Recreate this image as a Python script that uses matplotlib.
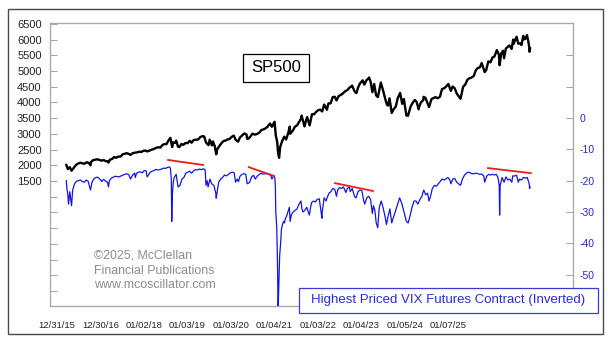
import matplotlib
matplotlib.use("Agg")
import matplotlib.pyplot as plt
import matplotlib.dates as mdates
from matplotlib.patches import Rectangle
from matplotlib.ticker import FixedLocator, FuncFormatter
import pandas as pd

plt.rcParams['font.family'] = ['Liberation Sans', 'DejaVu Sans']

# S&P 500 closes (approximate, roughly twice a month plus turning points)
sp_dates = [
    "2016-01-04", "2016-01-15", "2016-01-29", "2016-02-11", "2016-02-29", "2016-03-15", "2016-03-31",
    "2016-04-15", "2016-04-29", "2016-05-13", "2016-05-31", "2016-06-15", "2016-06-27", "2016-06-30",
    "2016-07-15", "2016-07-29", "2016-08-15", "2016-08-31", "2016-09-15", "2016-09-30", "2016-10-14",
    "2016-10-31", "2016-11-04", "2016-11-15", "2016-11-30", "2016-12-15", "2016-12-30",
    "2017-01-13", "2017-01-31", "2017-02-15", "2017-02-28", "2017-03-15", "2017-03-31", "2017-04-13",
    "2017-04-28", "2017-05-15", "2017-05-31", "2017-06-15", "2017-06-30", "2017-07-14", "2017-07-31",
    "2017-08-11", "2017-08-31", "2017-09-15", "2017-09-29", "2017-10-13", "2017-10-31", "2017-11-15",
    "2017-11-30", "2017-12-15", "2017-12-29",
    "2018-01-12", "2018-01-26", "2018-02-08", "2018-02-15", "2018-02-28", "2018-03-09", "2018-03-23",
    "2018-04-02", "2018-04-16", "2018-04-30", "2018-05-15", "2018-05-31", "2018-06-15", "2018-06-29",
    "2018-07-13", "2018-07-31", "2018-08-15", "2018-08-31", "2018-09-20", "2018-09-28", "2018-10-11",
    "2018-10-29", "2018-11-07", "2018-11-23", "2018-11-30", "2018-12-14", "2018-12-24", "2018-12-31",
    "2019-01-15", "2019-01-31", "2019-02-15", "2019-02-28", "2019-03-15", "2019-03-29", "2019-04-15",
    "2019-04-30", "2019-05-13", "2019-05-31", "2019-06-14", "2019-06-28", "2019-07-15", "2019-07-31",
    "2019-08-05", "2019-08-15", "2019-08-30", "2019-09-13", "2019-09-30", "2019-10-15", "2019-10-31",
    "2019-11-15", "2019-11-29", "2019-12-13", "2019-12-31",
    "2020-01-17", "2020-01-31", "2020-02-19", "2020-02-28", "2020-03-09", "2020-03-16", "2020-03-23",
    "2020-03-31", "2020-04-15", "2020-04-30", "2020-05-13", "2020-05-29", "2020-06-08", "2020-06-11",
    "2020-06-30", "2020-07-15", "2020-07-31", "2020-08-14", "2020-08-31", "2020-09-02", "2020-09-23",
    "2020-09-30", "2020-10-12", "2020-10-30", "2020-11-16", "2020-11-30", "2020-12-15", "2020-12-31",
    "2021-01-15", "2021-01-29", "2021-02-12", "2021-03-04", "2021-03-15", "2021-03-31", "2021-04-15",
    "2021-04-30", "2021-05-12", "2021-05-28", "2021-06-15", "2021-06-30", "2021-07-15", "2021-07-30",
    "2021-08-16", "2021-08-31", "2021-09-02", "2021-09-20", "2021-09-30", "2021-10-04", "2021-10-15",
    "2021-10-29", "2021-11-18", "2021-11-30", "2021-12-15", "2021-12-31",
    "2022-01-03", "2022-01-14", "2022-01-27", "2022-02-09", "2022-02-23", "2022-03-08", "2022-03-29",
    "2022-04-14", "2022-04-29", "2022-05-12", "2022-05-20", "2022-05-31", "2022-06-16", "2022-06-30",
    "2022-07-15", "2022-07-29", "2022-08-16", "2022-08-31", "2022-09-12", "2022-09-30", "2022-10-12",
    "2022-10-31", "2022-11-15", "2022-11-30", "2022-12-13", "2022-12-28", "2022-12-30",
    "2023-01-13", "2023-01-31", "2023-02-02", "2023-02-15", "2023-03-13", "2023-03-31", "2023-04-14",
    "2023-04-28", "2023-05-15", "2023-05-31", "2023-06-15", "2023-06-30", "2023-07-14", "2023-07-31",
    "2023-08-18", "2023-08-31", "2023-09-15", "2023-09-29", "2023-10-27", "2023-11-15", "2023-11-30",
    "2023-12-15", "2023-12-29",
    "2024-01-12", "2024-01-31", "2024-02-15", "2024-02-29", "2024-03-15", "2024-03-28", "2024-04-19",
    "2024-04-30", "2024-05-15", "2024-05-31", "2024-06-14", "2024-06-28", "2024-07-16", "2024-07-31",
    "2024-08-05", "2024-08-16", "2024-08-30", "2024-09-06", "2024-09-19", "2024-09-30", "2024-10-15",
    "2024-10-31", "2024-11-11", "2024-11-15", "2024-11-29", "2024-12-06", "2024-12-18", "2024-12-31",
    "2025-01-10", "2025-01-23", "2025-01-27", "2025-02-07", "2025-02-19", "2025-02-28", "2025-03-07",
    "2025-03-10", "2025-03-13",
]
sp_close = [
    2012, 1880, 1940, 1829, 1932, 2015, 2060,
    2080, 2065, 2046, 2097, 2072, 2000, 2099,
    2162, 2174, 2190, 2171, 2147, 2168, 2133,
    2126, 2085, 2180, 2199, 2262, 2239,
    2275, 2279, 2350, 2364, 2385, 2363, 2329,
    2384, 2402, 2412, 2433, 2423, 2459, 2470,
    2441, 2472, 2500, 2519, 2553, 2575, 2564,
    2648, 2675, 2674,
    2786, 2873, 2581, 2732, 2714, 2786, 2588,
    2582, 2678, 2648, 2711, 2705, 2780, 2718,
    2801, 2816, 2818, 2902, 2931, 2914, 2728,
    2641, 2814, 2633, 2760, 2600, 2351, 2507,
    2610, 2704, 2775, 2784, 2822, 2834, 2905,
    2946, 2812, 2752, 2887, 2942, 3014, 2980,
    2844, 2848, 2926, 3007, 2977, 2996, 3038,
    3120, 3141, 3169, 3231,
    3330, 3226, 3386, 2954, 2747, 2386, 2237,
    2585, 2783, 2912, 2820, 3044, 3232, 3002,
    3100, 3227, 3271, 3373, 3500, 3580, 3237,
    3363, 3534, 3270, 3627, 3622, 3695, 3756,
    3768, 3714, 3934, 3768, 3969, 3973, 4170,
    4181, 4063, 4204, 4246, 4298, 4360, 4395,
    4479, 4523, 4537, 4358, 4308, 4300, 4471,
    4605, 4704, 4567, 4709, 4766,
    4796, 4663, 4326, 4587, 4226, 4171, 4632,
    4393, 4132, 3930, 3901, 4132, 3667, 3785,
    3863, 4130, 4305, 3955, 4110, 3586, 3577,
    3872, 3991, 4080, 4019, 3783, 3840,
    3999, 4077, 4180, 4148, 3855, 4109, 4138,
    4169, 4136, 4180, 4426, 4450, 4505, 4589,
    4370, 4508, 4450, 4288, 4117, 4502, 4568,
    4719, 4770,
    4784, 4846, 5030, 5096, 5117, 5254, 4967,
    5036, 5308, 5278, 5431, 5460, 5667, 5522,
    5186, 5554, 5648, 5408, 5713, 5762, 5815,
    5705, 6001, 5870, 6032, 6090, 5872, 5882,
    5827, 6119, 6012, 6026, 6144, 5955, 5770,
    5614, 5720,
]

# Highest-priced VIX futures contract (plotted inverted on the right axis)
vx_dates = [
    "2016-01-04", "2016-01-08", "2016-01-15", "2016-01-20", "2016-01-29", "2016-02-11", "2016-02-19",
    "2016-03-04", "2016-03-18", "2016-04-01", "2016-04-15", "2016-04-29", "2016-05-13", "2016-05-27",
    "2016-06-10", "2016-06-24", "2016-06-27", "2016-07-08", "2016-07-22", "2016-08-05", "2016-08-19",
    "2016-09-09", "2016-09-16", "2016-09-30", "2016-10-14", "2016-10-28", "2016-11-04", "2016-11-11",
    "2016-11-25", "2016-12-09", "2016-12-23",
    "2017-01-06", "2017-01-20", "2017-02-03", "2017-02-17", "2017-03-03", "2017-03-17", "2017-03-31",
    "2017-04-13", "2017-04-28", "2017-05-12", "2017-05-17", "2017-05-26", "2017-06-09", "2017-06-23",
    "2017-07-07", "2017-07-21", "2017-08-04", "2017-08-11", "2017-08-18", "2017-09-01", "2017-09-15",
    "2017-09-29", "2017-10-13", "2017-10-27", "2017-11-10", "2017-11-24", "2017-12-08", "2017-12-22",
    "2018-01-05", "2018-01-19", "2018-01-26", "2018-02-02", "2018-02-05", "2018-02-09", "2018-02-16",
    "2018-02-23", "2018-03-09", "2018-03-23", "2018-04-06", "2018-04-20", "2018-05-04", "2018-05-18",
    "2018-06-01", "2018-06-15", "2018-06-29", "2018-07-13", "2018-07-27", "2018-08-10", "2018-08-24",
    "2018-09-07", "2018-09-21", "2018-10-05", "2018-10-11", "2018-10-19", "2018-10-26", "2018-11-09",
    "2018-11-21", "2018-12-07", "2018-12-21", "2018-12-24", "2018-12-31",
    "2019-01-11", "2019-01-25", "2019-02-08", "2019-02-22", "2019-03-08", "2019-03-22", "2019-04-05",
    "2019-04-19", "2019-05-03", "2019-05-13", "2019-05-24", "2019-06-03", "2019-06-14", "2019-06-28",
    "2019-07-12", "2019-07-26", "2019-08-05", "2019-08-14", "2019-08-23", "2019-09-06", "2019-09-20",
    "2019-10-02", "2019-10-18", "2019-11-01", "2019-11-15", "2019-11-29", "2019-12-13", "2019-12-27",
    "2020-01-10", "2020-01-24", "2020-01-31", "2020-02-14", "2020-02-21", "2020-02-25", "2020-02-28",
    "2020-03-06", "2020-03-12", "2020-03-16", "2020-03-18", "2020-03-23", "2020-03-27", "2020-04-03",
    "2020-04-09", "2020-04-17", "2020-04-24", "2020-05-01", "2020-05-08", "2020-05-15", "2020-05-22",
    "2020-06-05", "2020-06-11", "2020-06-19", "2020-07-02", "2020-07-17", "2020-07-31", "2020-08-14",
    "2020-08-28", "2020-09-04", "2020-09-11", "2020-09-25", "2020-10-09", "2020-10-28", "2020-11-06",
    "2020-11-13", "2020-11-27", "2020-12-11", "2020-12-23",
    "2021-01-08", "2021-01-27", "2021-01-29", "2021-02-12", "2021-02-26", "2021-03-05", "2021-03-19",
    "2021-04-02", "2021-04-16", "2021-04-30", "2021-05-12", "2021-05-21", "2021-06-04", "2021-06-18",
    "2021-07-02", "2021-07-19", "2021-07-30", "2021-08-13", "2021-08-20", "2021-09-03", "2021-09-20",
    "2021-10-01", "2021-10-15", "2021-10-29", "2021-11-12", "2021-11-26", "2021-12-03", "2021-12-17",
    "2021-12-31",
    "2022-01-14", "2022-01-27", "2022-02-04", "2022-02-14", "2022-02-24", "2022-03-07", "2022-03-18",
    "2022-04-01", "2022-04-14", "2022-04-29", "2022-05-09", "2022-05-20", "2022-06-03", "2022-06-16",
    "2022-06-30", "2022-07-15", "2022-07-29", "2022-08-12", "2022-08-26", "2022-09-13", "2022-09-30",
    "2022-10-13", "2022-10-28", "2022-11-10", "2022-11-25", "2022-12-09", "2022-12-22",
    "2023-01-06", "2023-01-20", "2023-02-03", "2023-02-17", "2023-03-03", "2023-03-13", "2023-03-24",
    "2023-04-06", "2023-04-21", "2023-05-05", "2023-05-19", "2023-06-02", "2023-06-16", "2023-06-30",
    "2023-07-14", "2023-07-28", "2023-08-11", "2023-08-18", "2023-09-01", "2023-09-15", "2023-09-29",
    "2023-10-13", "2023-10-27", "2023-11-10", "2023-11-24", "2023-12-08", "2023-12-22",
    "2024-01-05", "2024-01-19", "2024-02-02", "2024-02-16", "2024-03-01", "2024-03-15", "2024-03-28",
    "2024-04-12", "2024-04-19", "2024-05-03", "2024-05-17", "2024-05-31", "2024-06-14", "2024-06-28",
    "2024-07-12", "2024-07-24", "2024-08-02", "2024-08-05", "2024-08-09", "2024-08-23", "2024-09-06",
    "2024-09-20", "2024-10-04", "2024-10-18", "2024-11-01", "2024-11-08", "2024-11-22", "2024-12-06",
    "2024-12-18", "2024-12-27",
    "2025-01-10", "2025-01-24", "2025-02-07", "2025-02-21", "2025-02-28", "2025-03-07", "2025-03-10",
    "2025-03-13",
]
vx_high = [
    20.0, 22.5, 24.5, 27.5, 23.5, 28.0, 23.0,
    21.0, 20.2, 20.0, 19.8, 20.3, 20.5, 19.8,
    20.2, 22.5, 23.0, 20.5, 19.4, 19.0, 18.9,
    19.8, 20.3, 19.6, 20.1, 20.5, 22.0, 20.0,
    19.2, 18.9, 18.6,
    18.7, 18.8, 18.5, 18.2, 18.0, 17.8, 18.1,
    19.5, 18.2, 17.6, 19.0, 17.7, 17.3, 17.2,
    17.5, 16.8, 16.9, 18.8, 18.4, 17.4, 17.0,
    16.8, 16.4, 16.6, 16.5, 16.3, 16.0, 16.1,
    15.8, 15.6, 16.0, 19.5, 33.0, 25.0, 20.5,
    19.0, 18.0, 22.0, 21.5, 19.5, 19.0, 17.6,
    17.3, 17.0, 17.6, 16.9, 16.5, 16.6, 16.3,
    16.5, 16.2, 16.6, 21.5, 20.0, 22.0, 19.5,
    21.0, 21.5, 24.0, 25.6, 23.5,
    20.5, 19.5, 19.0, 18.2, 18.5, 18.0, 17.5,
    17.3, 17.5, 20.5, 19.5, 20.3, 18.6, 18.0,
    17.8, 18.0, 21.0, 20.8, 20.5, 18.8, 18.3,
    19.5, 18.5, 18.0, 17.7, 17.9, 17.8, 17.8,
    17.9, 18.5, 19.5, 18.4, 19.0, 22.0, 30.0,
    35.0, 48.0, 63.0, 58.0, 50.0, 44.0, 40.0,
    35.5, 34.0, 33.0, 33.5, 32.0, 31.5, 30.5,
    28.5, 33.0, 31.0, 30.0, 29.5, 29.0, 27.5,
    26.5, 29.0, 30.0, 29.5, 28.5, 31.0, 28.5,
    27.0, 26.5, 26.8, 26.0,
    25.8, 32.0, 30.0, 25.5, 26.5, 25.5, 24.0,
    23.5, 22.5, 22.8, 25.0, 23.0, 22.2, 22.5,
    22.0, 23.8, 22.5, 22.0, 23.5, 22.5, 25.0,
    25.5, 23.5, 23.0, 23.2, 26.5, 27.5, 25.5,
    25.0,
    26.0, 30.5, 28.0, 29.5, 33.5, 35.0, 28.5,
    26.5, 28.5, 31.5, 34.0, 31.5, 29.0, 33.5,
    31.5, 29.5, 27.5, 25.5, 27.0, 30.0, 33.0,
    33.5, 31.0, 28.5, 26.5, 26.5, 27.5,
    26.0, 25.0, 23.0, 24.5, 24.0, 26.5, 25.0,
    22.5, 21.5, 21.8, 21.0, 20.3, 19.5, 19.8,
    19.4, 19.0, 19.8, 21.0, 19.5, 19.3, 20.5,
    21.0, 21.5, 19.5, 18.3, 17.6, 17.3,
    17.5, 17.8, 17.8, 17.6, 17.8, 18.0, 17.9,
    18.5, 20.5, 18.6, 18.0, 18.2, 18.0, 18.2,
    18.0, 19.0, 21.5, 31.0, 21.5, 19.0, 20.5,
    18.8, 19.8, 19.5, 20.5, 18.5, 18.5, 18.3,
    20.5, 19.5,
    19.8, 19.0, 19.2, 19.0, 20.0, 21.0, 22.5,
    22.0,
]

# Divergence trendlines on the inverted VIX series: (start, value, end, value)
trend_starts = ["2018-01-10", "2019-08-17", "2021-05-02", "2024-05-13"]
trend_start_vals = [-13.4, -15.7, -20.8, -16.0]
trend_ends = ["2018-09-20", "2020-02-15", "2022-01-31", "2025-03-19"]
trend_end_vals = [-15.0, -18.5, -23.3, -17.6]

date_labels = ["12/31/15", "12/30/16", "01/02/18", "01/03/19", "01/03/20",
               "01/04/21", "01/03/22", "01/04/23", "01/05/24", "01/07/25"]

sp_left_ticks = list(range(-2000, 6501, 500))
vx_right_ticks = [20, 10, 0, -10, -20, -30, -40, -50]

W, H = 608, 339
fig = plt.figure(figsize=(W / 100, H / 100), dpi=100)
fig.patch.set_facecolor("white")

L, R, T, B = 50, 573, 23, 306
ax = fig.add_axes([L / W, 1 - B / H, (R - L) / W, (B - T) / H])
axr = ax.twinx()
axl = ax.twiny()

spine_col = "#a8a8a8"
blue = "#1414e6"

sp_x = pd.to_datetime(sp_dates)
vx_x = pd.to_datetime(vx_dates)

ax.plot(sp_x, sp_close, color="black", lw=1.7, solid_joinstyle="round", zorder=3)
ax.set_ylim(-2480, 6530)
ax.set_xlim(pd.Timestamp("2015-09-08"), pd.Timestamp("2026-01-18"))

axr.plot(vx_x, [-v for v in vx_high], color=blue, lw=0.9, zorder=3)
for s, sv, e, ev in zip(trend_starts, trend_start_vals, trend_ends, trend_end_vals):
    axr.plot(pd.to_datetime([s, e]), [sv, ev], color="#e81c1c", lw=1.3, zorder=4)
axr.set_ylim(-60, 30.3)

# left axis: ticks every 500, labels only from 1500 up
ax.yaxis.set_major_locator(FixedLocator(sp_left_ticks))
ax.yaxis.set_major_formatter(FuncFormatter(lambda v, p: f"{int(v)}" if v >= 1500 else ""))
ax.tick_params(axis="y", direction="in", length=5, width=0.8, color=spine_col,
               labelsize=8, labelcolor="#222222", pad=6)
ax.tick_params(axis="x", bottom=False, labelbottom=False)

axr.yaxis.set_major_locator(FixedLocator(vx_right_ticks))
axr.yaxis.set_major_formatter(FuncFormatter(lambda v, p: f"{int(v)}" if v <= 0 else ""))
axr.tick_params(axis="y", direction="in", length=5, width=0.8, color=spine_col,
                labelsize=7.5, labelcolor="#2828c8", pad=5)

# evenly spaced date captions along the bottom
axl.set_xlim(-0.161, 11.862)
axl.set_xticks(range(len(date_labels)))
axl.set_xticklabels(date_labels)
axl.xaxis.set_ticks_position("bottom")
axl.xaxis.set_label_position("bottom")
axl.tick_params(axis="x", length=0, labelsize=6.8, labelcolor="#222222", pad=11)
axl.tick_params(axis="y", left=False, right=False, labelleft=False, labelright=False)

for a in (ax, axr, axl):
    for sp in a.spines.values():
        sp.set_color(spine_col)
        sp.set_linewidth(0.8)

# SP500 caption box
ax.add_patch(Rectangle(((243 - L) / (R - L), (B - 82) / (B - T)), 66 / (R - L), 28 / (B - T),
                       transform=ax.transAxes, fill=False, edgecolor="black", lw=0.9, zorder=5))
ax.text((276 - L) / (R - L), (B - 68) / (B - T), "SP500", transform=ax.transAxes,
        ha="center", va="center", fontsize=12, color="black", zorder=6)

# copyright notice
for txt, yb in zip(["\u00a92025, McClellan", "Financial Publications", "www.mcoscillator.com"],
                   [259, 273.5, 288]):
    fig.text(94 / W, 1 - yb / H, txt, ha="left", va="baseline", fontsize=8.9, color="#8c8c8c")

# series caption box
fig.patches.append(Rectangle((299 / W, 1 - 313 / H), 299 / W, 25 / H, transform=fig.transFigure,
                             facecolor="white", edgecolor="#3a3ad8", lw=0.9, zorder=10))
fig.text(448.5 / W, 1 - 300.5 / H, "Highest Priced VIX Futures Contract (Inverted)",
         ha="center", va="center", fontsize=9.5, color="#2a2ad8", zorder=11)

# outer frame
fig.patches.append(Rectangle((8 / W, 1 - 334 / H), 595 / W, 325 / H, transform=fig.transFigure,
                             fill=False, edgecolor="#4a4a4a", lw=1.0, zorder=12))

fig.savefig("out.png", dpi=100, facecolor="white")
